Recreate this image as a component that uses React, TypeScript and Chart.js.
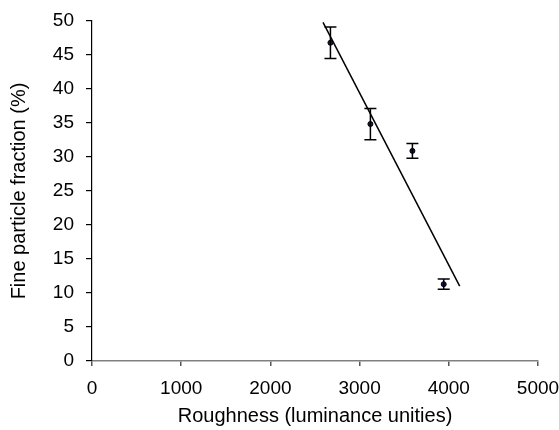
import React, { useEffect, useRef } from "react";
import { Chart, registerables } from "chart.js";

Chart.register(...registerables);

const roughness = [2673, 3121, 3592, 3943];
const fineFraction = [46.8, 34.85, 30.9, 11.3];
const errorValues = [2.3, 2.3, 1.1, 0.75];
const trendX = [2590, 4122];
const trendY = [49.8, 11.0];
const xTicks = [0, 1000, 2000, 3000, 4000, 5000];
const yTicks = [0, 5, 10, 15, 20, 25, 30, 35, 40, 45, 50];

const FONT = "'Liberation Sans', Arial, sans-serif";

const errorBarPlugin = {
  id: "errorBars",
  afterDatasetsDraw(chart: any) {
    const { ctx, scales } = chart;
    const xs = scales.x;
    const ys = scales.y;
    ctx.save();
    ctx.strokeStyle = "#000";
    ctx.lineWidth = 1.5;
    for (let i = 0; i < roughness.length; i++) {
      const px = xs.getPixelForValue(roughness[i]);
      const top = ys.getPixelForValue(fineFraction[i] + errorValues[i]);
      const bot = ys.getPixelForValue(fineFraction[i] - errorValues[i]);
      const cap = 6;
      ctx.beginPath();
      ctx.moveTo(px, top);
      ctx.lineTo(px, bot);
      ctx.moveTo(px - cap, top);
      ctx.lineTo(px + cap, top);
      ctx.moveTo(px - cap, bot);
      ctx.lineTo(px + cap, bot);
      ctx.stroke();
    }
    ctx.restore();
  },
};

export default function App() {
  const ref = useRef<HTMLCanvasElement>(null);
  useEffect(() => {
    if (!ref.current) return;
    const chart = new Chart(ref.current, {
      type: "scatter",
      data: {
        datasets: [
          {
            label: "Trend",
            type: "line",
            data: trendX.map((x, i) => ({ x, y: trendY[i] })),
            borderColor: "#000",
            borderWidth: 1.5,
            pointRadius: 0,
            fill: false,
            order: 2,
          } as any,
          {
            label: "Fine particle fraction",
            data: roughness.map((x, i) => ({ x, y: fineFraction[i] })),
            backgroundColor: "#1a1a66",
            borderColor: "#000",
            borderWidth: 1,
            pointRadius: 2.5,
            order: 1,
          },
        ],
      },
      options: {
        animation: false,
        responsive: true,
        maintainAspectRatio: false,
        layout: { padding: { left: 0, right: 21, top: 21, bottom: 0 } },
        plugins: {
          legend: { display: false },
          tooltip: { enabled: false },
        },
        scales: {
          x: {
            type: "linear",
            min: 0,
            max: 5000,
            afterBuildTicks: (s: any) => {
              s.ticks = xTicks.map((v) => ({ value: v }));
            },
            afterFit: (s: any) => {
              s.height = 69;
              s.paddingLeft = 0;
              s.paddingRight = 0;
            },
            border: { display: true, color: "#808080", width: 1.5 },
            grid: {
              drawOnChartArea: false,
              drawTicks: true,
              tickLength: 5,
              color: "#555",
              lineWidth: 1.5,
            },
            ticks: {
              color: "#000",
              font: { family: FONT, size: 19 },
              padding: 11,
              maxRotation: 0,
              callback: (v: any) => String(v),
            },
            title: {
              display: true,
              text: "Roughness (luminance unities)",
              color: "#000",
              font: { family: FONT, size: 20 },
              padding: { top: 0, bottom: 2 },
            },
          },
          y: {
            type: "linear",
            min: 0,
            max: 50,
            afterBuildTicks: (s: any) => {
              s.ticks = yTicks.map((v) => ({ value: v }));
            },
            afterFit: (s: any) => {
              s.width = 92;
              s.paddingTop = 0;
              s.paddingBottom = 0;
            },
            border: { display: true, color: "#000", width: 1.2 },
            grid: {
              drawOnChartArea: false,
              drawTicks: true,
              tickLength: 6,
              color: "#000",
              lineWidth: 1.2,
            },
            ticks: {
              color: "#000",
              font: { family: FONT, size: 19 },
              padding: 12,
              callback: (v: any) => String(v),
            },
            title: {
              display: true,
              text: "Fine particle fraction (%)",
              color: "#000",
              font: { family: FONT, size: 20 },
              padding: { top: 7, bottom: 0 },
            },
          },
        },
      },
      plugins: [errorBarPlugin],
    });
    return () => chart.destroy();
  }, []);
  return (
    <div style={{ position: "fixed", left: 0, top: 0, width: 559, height: 430, background: "#fff" }}>
      <canvas ref={ref} />
    </div>
  );
}
